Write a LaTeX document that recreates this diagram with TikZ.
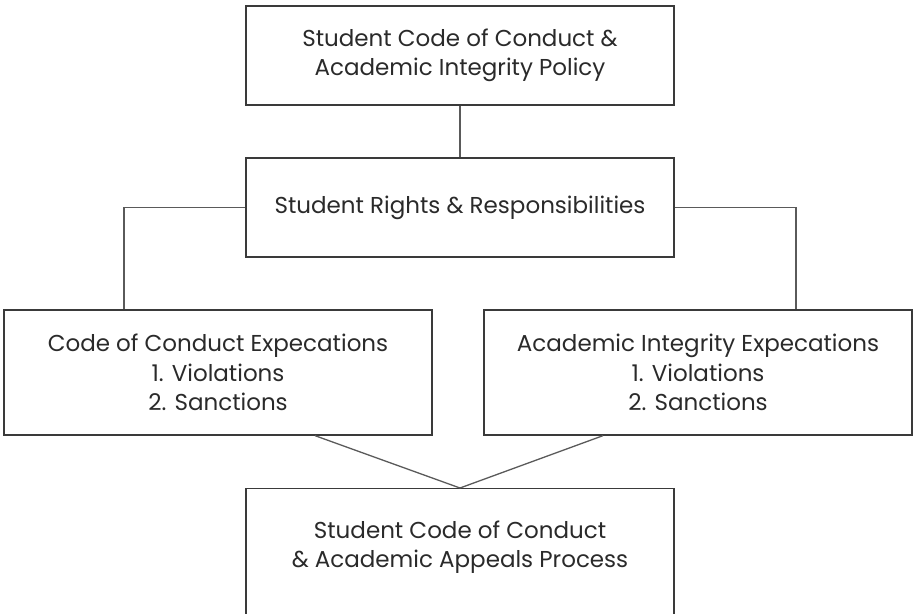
\documentclass[tikz,border=0pt]{standalone}
\usepackage{fontspec}
\setmainfont{Poppins}
\definecolor{boxc}{HTML}{3A3A3A}
\definecolor{linec}{HTML}{5A5A5A}
\definecolor{txtc}{HTML}{2A2A2A}
\begin{document}
\begin{tikzpicture}[x=1pt,y=-1pt,
  boxstyle/.style={draw=boxc, line width=1.3pt, rectangle, minimum width=428pt, inner sep=0pt, align=center, text=txtc, font=\fontsize{23}{29.5}\selectfont},
  txtstyle/.style={align=center, text=txtc, inner sep=0pt, font=\fontsize{23}{29.5}\selectfont},
  link/.style={draw=linec, line width=1.3pt}]
\useasboundingbox (0,0) rectangle (917,613);
\clip (0,0) rectangle (917,613);
\node[boxstyle, minimum height=99pt] (top) at (460,55.5) {Student Code of Conduct \&\\Academic Integrity Policy};
\node[boxstyle, minimum height=99pt] (mid) at (460,207.5) {Student Rights \& Responsibilities};
\node[boxstyle, minimum height=125pt] (left) at (218,372.5) {Code of Conduct Expecations\\1. Violations\\2. Sanctions};
\node[boxstyle, minimum height=125pt] (right) at (698,372.5) {Academic Integrity Expecations\\1. Violations\\2. Sanctions};
\node[boxstyle, minimum height=160pt, anchor=north] (bot) at (460,488) {};
\node[txtstyle] (bottxt) at (460,547) {Student Code of Conduct\\\& Academic Appeals Process};
\draw[link] (top.south) -- (mid.north);
\draw[link] (mid.west) -| ([xshift=-94pt]left.north);
\draw[link] (mid.east) -| ([xshift=98pt]right.north);
\draw[link] ([xshift=97pt]left.south) -- (bot.north);
\draw[link] ([xshift=-95pt]right.south) -- (bot.north);
\end{tikzpicture}
\end{document}
